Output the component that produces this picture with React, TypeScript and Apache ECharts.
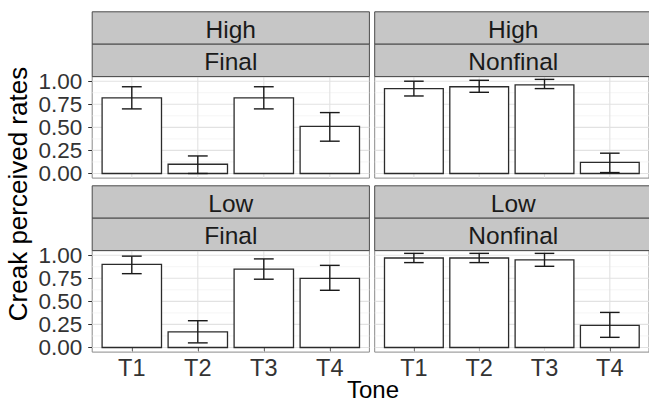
import React, { useEffect, useRef } from 'react';
import * as echarts from 'echarts';

// ---- data ----
const tones = ['T1', 'T2', 'T3', 'T4'];
const yTicks = [0, 0.25, 0.5, 0.75, 1];
const yMinor = [0.125, 0.375, 0.625, 0.875];
const stripTop = ['High', 'High', 'Low', 'Low'];
const stripBottom = ['Final', 'Nonfinal', 'Final', 'Nonfinal'];

const highFinalMean = [0.82, 0.10, 0.82, 0.51];
const highFinalLo = [0.70, 0.00, 0.70, 0.35];
const highFinalHi = [0.94, 0.19, 0.94, 0.66];

const highNonfinalMean = [0.92, 0.94, 0.96, 0.12];
const highNonfinalLo = [0.84, 0.88, 0.92, 0.01];
const highNonfinalHi = [1.00, 1.01, 1.02, 0.22];

const lowFinalMean = [0.90, 0.17, 0.85, 0.75];
const lowFinalLo = [0.80, 0.05, 0.74, 0.62];
const lowFinalHi = [0.99, 0.29, 0.96, 0.89];

const lowNonfinalMean = [0.97, 0.97, 0.95, 0.24];
const lowNonfinalLo = [0.92, 0.92, 0.88, 0.11];
const lowNonfinalHi = [1.02, 1.02, 1.02, 0.38];

const facets = [
  { mean: highFinalMean, lo: highFinalLo, hi: highFinalHi },
  { mean: highNonfinalMean, lo: highNonfinalLo, hi: highNonfinalHi },
  { mean: lowFinalMean, lo: lowFinalLo, hi: lowFinalHi },
  { mean: lowNonfinalMean, lo: lowNonfinalLo, hi: lowNonfinalHi },
];

// ---- layout ----
const FONT = '"Liberation Sans", Arial, Helvetica, sans-serif';
const colLeft = [92.2, 374.7];
const panelW = 277.2;
const rowTop = [76.6, 250.6];
const panelH = 101.5;
const stripH = 32.4;

export default function App() {
  const ref = useRef<HTMLDivElement>(null);
  useEffect(() => {
    if (!ref.current) return;
    const chart = echarts.init(ref.current, null, { renderer: 'svg' });

    const grids: any[] = [];
    const xAxes: any[] = [];
    const yAxes: any[] = [];
    const series: any[] = [];
    const graphics: any[] = [];

    facets.forEach((f, i) => {
      const r = Math.floor(i / 2);
      const c = i % 2;
      grids.push({
        left: colLeft[c], top: rowTop[r], width: panelW, height: panelH,
        show: true, backgroundColor: '#ffffff', borderColor: '#8a8a8a', borderWidth: 1,
      });
      xAxes.push({
        type: 'value', gridIndex: i, min: 0.4, max: 4.6,
        axisLine: { show: false }, splitLine: { show: false },
        axisTick: { show: r === 1, customValues: [1, 2, 3, 4], length: 4, lineStyle: { color: '#333333' } },
        axisLabel: {
          show: r === 1, customValues: [1, 2, 3, 4], hideOverlap: false,
          formatter: (v: number) => tones[Math.round(v) - 1] ?? '',
          fontSize: 23.5, lineHeight: 22, color: '#333333', fontFamily: FONT, margin: 5,
        },
      });
      yAxes.push({
        type: 'value', gridIndex: i, min: -0.05, max: 1.05,
        axisLine: { show: false }, splitLine: { show: false },
        axisTick: { show: c === 0, customValues: yTicks, length: 4, lineStyle: { color: '#333333' } },
        axisLabel: { show: false },
      });

      // grid lines
      const lines: number[][] = [];
      yTicks.forEach((v) => lines.push([0, v]));
      yMinor.forEach((v) => lines.push([1, v]));
      [1, 2, 3, 4].forEach((v) => lines.push([2, v]));
      series.push({
        type: 'custom', xAxisIndex: i, yAxisIndex: i, z: 1, silent: true,
        data: lines,
        renderItem: (_p: any, api: any) => {
          const kind = api.value(0);
          const v = api.value(1);
          let a, b;
          if (kind === 2) {
            a = api.coord([v, -0.05]);
            b = api.coord([v, 1.05]);
          } else {
            a = api.coord([0.4, v]);
            b = api.coord([4.6, v]);
          }
          return {
            type: 'line',
            shape: { x1: a[0], y1: a[1], x2: b[0], y2: b[1] },
            style: { stroke: kind === 1 ? '#f0f0f0' : '#e2e2e2', lineWidth: kind === 1 ? 0.7 : 1.1 },
          };
        },
      });

      // y tick labels (left column), placed through the axis scale
      if (c === 0) {
        series.push({
          type: 'custom', xAxisIndex: i, yAxisIndex: i, z: 5, silent: true, clip: false,
          data: yTicks.map((v) => [0.4, v]),
          renderItem: (_p: any, api: any) => {
            const v = api.value(1);
            const p = api.coord([0.4, v]);
            return {
              type: 'text',
              x: p[0] - 10, y: p[1] + 0.5,
              style: {
                text: v.toFixed(2), fontSize: 22.5, lineHeight: 22, fontFamily: FONT, fill: '#333333',
                align: 'right', verticalAlign: 'middle',
              },
            };
          },
        });
      }

      // bars + error bars
      series.push({
        type: 'custom', xAxisIndex: i, yAxisIndex: i, z: 3, clip: false,
        encode: { x: 0, y: 1 },
        data: f.mean.map((m, k) => [k + 1, m, f.lo[k], f.hi[k]]),
        renderItem: (_p: any, api: any) => {
          const x = api.value(0), y = api.value(1), lo = api.value(2), hi = api.value(3);
          const p0 = api.coord([x - 0.45, y]);
          const p1 = api.coord([x + 0.45, 0]);
          const eh = api.coord([x, hi]);
          const el = api.coord([x, lo]);
          const hl = api.coord([x - 0.15, hi]);
          const hr = api.coord([x + 0.15, hi]);
          const ll = api.coord([x - 0.15, lo]);
          const lr = api.coord([x + 0.15, lo]);
          const es = { stroke: '#1a1a1a', lineWidth: 1.4 };
          return {
            type: 'group',
            children: [
              { type: 'rect', shape: { x: p0[0], y: p0[1], width: p1[0] - p0[0], height: p1[1] - p0[1] },
                style: { fill: '#ffffff', stroke: '#2b2b2b', lineWidth: 1.3 } },
              { type: 'line', shape: { x1: eh[0], y1: eh[1], x2: el[0], y2: el[1] }, style: es },
              { type: 'line', shape: { x1: hl[0], y1: hl[1], x2: hr[0], y2: hr[1] }, style: es },
              { type: 'line', shape: { x1: ll[0], y1: ll[1], x2: lr[0], y2: lr[1] }, style: es },
            ],
          };
        },
      });

      // strips
      const labels = [stripTop[i], stripBottom[i]];
      labels.forEach((txt, k) => {
        const sy = rowTop[r] - 2 * stripH + k * stripH;
        graphics.push({
          type: 'rect', z: 10,
          shape: { x: colLeft[c], y: sy, width: panelW, height: stripH },
          style: { fill: '#c6c6c6', stroke: '#4a4a4a', lineWidth: 1 },
        });
        graphics.push({
          type: 'text', z: 11,
          x: colLeft[c] + panelW / 2, y: sy + stripH / 2 + 1,
          style: { text: txt, fontSize: 24.5, fontFamily: FONT, fill: '#1a1a1a', align: 'center', verticalAlign: 'middle' },
        });
      });
    });

    graphics.push({
      type: 'text', z: 11, x: 373, y: 389,
      style: { text: 'Tone', fontSize: 24, lineHeight: 24, fontFamily: FONT, fill: '#000000', align: 'center', verticalAlign: 'middle' },
    });
    graphics.push({
      type: 'text', z: 11, x: 18, y: 194, rotation: Math.PI / 2,
      style: { text: 'Creak perceived rates', fontSize: 26, fontFamily: FONT, fill: '#000000', align: 'center', verticalAlign: 'middle' },
    });

    chart.setOption({
      animation: false,
      backgroundColor: '#ffffff',
      grid: grids,
      xAxis: xAxes,
      yAxis: yAxes,
      series,
      graphic: { elements: graphics },
    });
    return () => chart.dispose();
  }, []);
  return <div ref={ref} style={{ position: 'fixed', left: 0, top: 0, width: 649, height: 403 }} />;
}
